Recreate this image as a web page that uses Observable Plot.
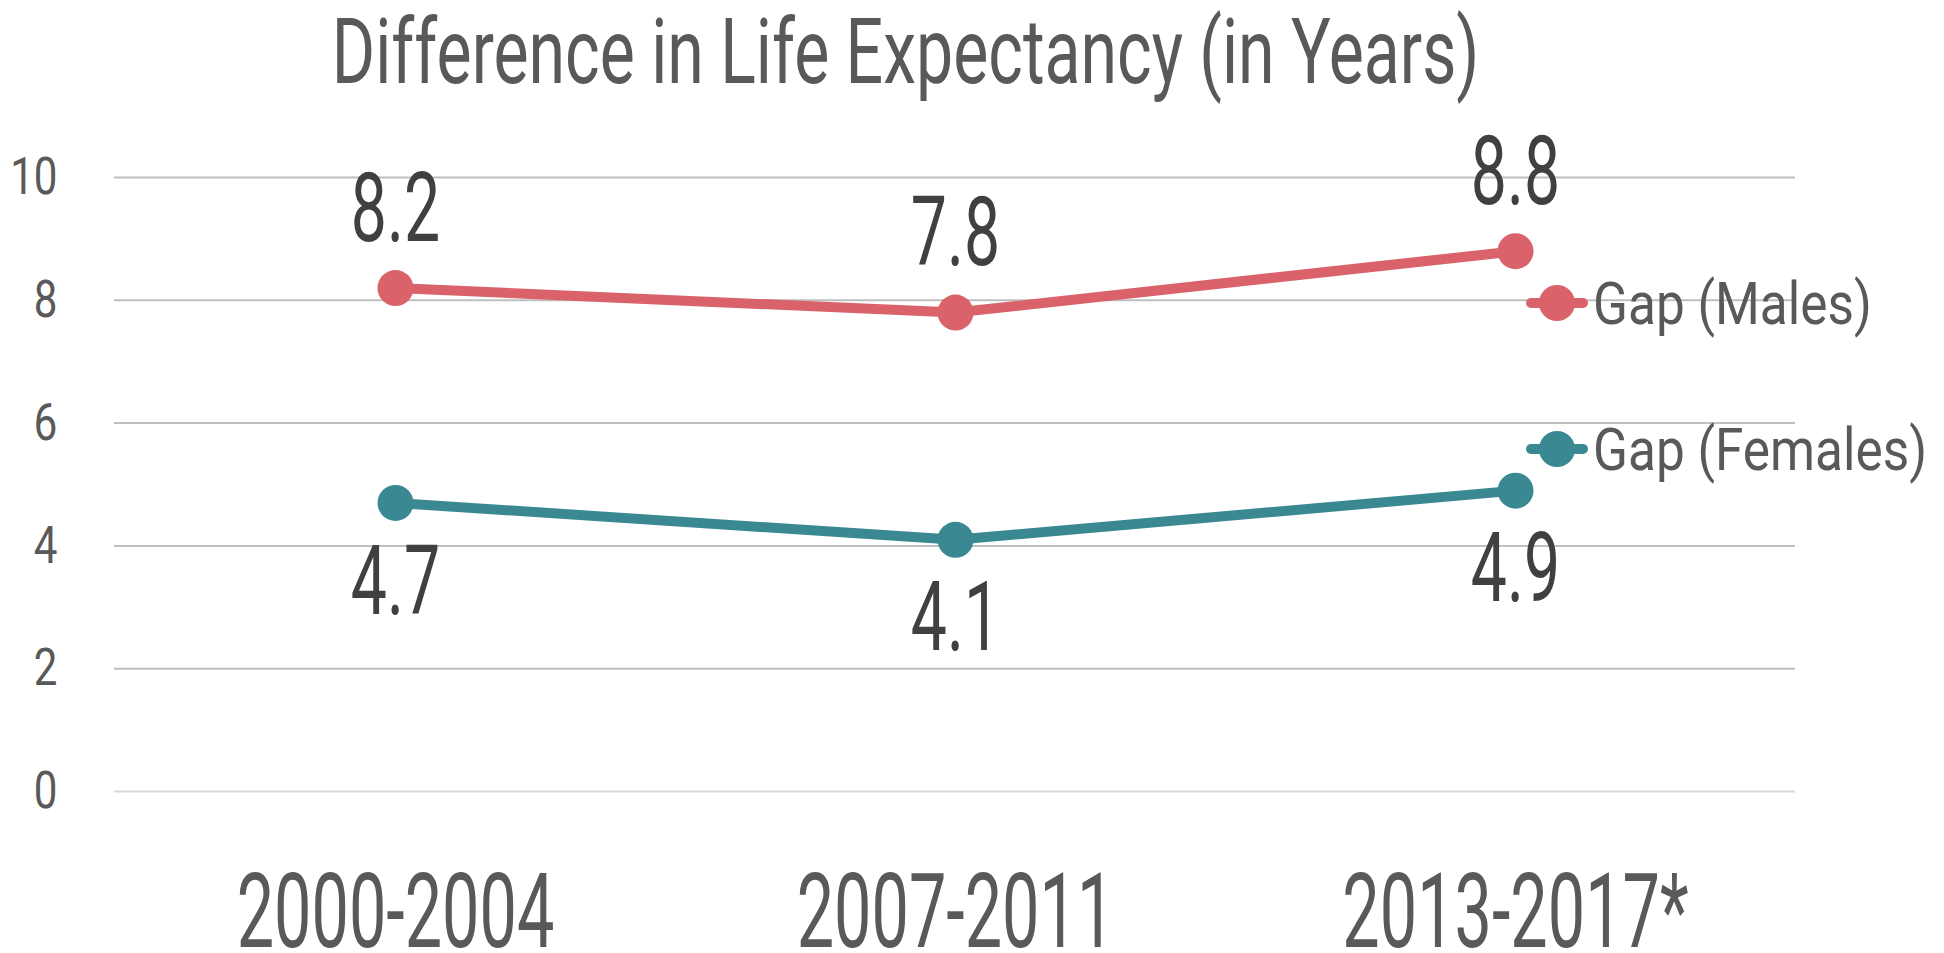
<!DOCTYPE html>
<html>
<head>
<meta charset="utf-8">
<script src="https://cdn.jsdelivr.net/npm/d3@7"></script>
<script src="https://cdn.jsdelivr.net/npm/@observablehq/plot@0.6"></script>
<style>
  html, body { margin: 0; padding: 0; background: #fff; }
  body { width: 1944px; height: 953px; position: relative; overflow: hidden; font-family: Roboto, sans-serif; }
  #title { position: absolute; left: 0; top: 2px; width: 1812px; text-align: center;
           font-size: 90px; line-height: 102px; color: #595959; white-space: nowrap; }
  #title span { display: inline-block; transform-origin: center; }
  #chart { position: absolute; left: 0; top: 115px; }
  #chart svg { overflow: visible; }
  .legend { position: absolute; display: flex; align-items: center; color: #595959; font-size: 59px; white-space: nowrap; height: 80px; }
  .legend span { display: inline-block; transform-origin: left center; }
</style>
</head>
<body>
<div id="title"><span>Difference in Life Expectancy (in Years)</span></div>
<div id="chart"></div>
<div id="legend"></div>
<script>
// ---- data ----
const periods = ["2000-2004", "2007-2011", "2013-2017*"];
const males = [8.2, 7.8, 8.8];
const females = [4.7, 4.1, 4.9];
const seriesNames = ["Gap (Males)", "Gap (Females)"];
const seriesColors = ["#D9626B", "#3A8892"];
const yTicks = [0, 2, 4, 6, 8, 10];

const rows = [
  ...periods.map((p, i) => ({period: p, value: males[i], series: seriesNames[0]})),
  ...periods.map((p, i) => ({period: p, value: females[i], series: seriesNames[1]}))
];
const maleRows = rows.filter(d => d.series === seriesNames[0]);
const femaleRows = rows.filter(d => d.series === seriesNames[1]);

const chart = Plot.plot({
  width: 1944,
  height: 838,
  marginTop: 62,
  marginBottom: 162,
  marginLeft: 114,
  marginRight: 149,
  style: {fontFamily: "Roboto, sans-serif", background: "#fff", color: "#595959", overflow: "visible"},
  x: {type: "point", domain: periods, padding: 0.5, label: null},
  y: {domain: [0, 10], label: null},
  color: {domain: seriesNames, range: seriesColors},
  marks: [
    Plot.ruleY(yTicks, {y: d => d, stroke: d => d === 0 ? "#D9D9D9" : "#BFBFBF", strokeWidth: 2}),
    Plot.axisY({ticks: yTicks, tickSize: 0, tickPadding: 57, fontSize: 52, fill: "#595959", label: null}),
    Plot.axisX({tickSize: 0, tickPadding: 82, fontSize: 104, fill: "#595959", label: null}),
    Plot.line(rows, {x: "period", y: "value", z: "series", stroke: "series", strokeWidth: 10}),
    Plot.dot(rows, {x: "period", y: "value", fill: "series", r: 18}),
    Plot.text(maleRows, {x: "period", y: "value", text: d => d.value.toFixed(1), dy: -78, fontSize: 96, fill: "#404040"}),
    Plot.text(femaleRows, {x: "period", y: "value", text: d => d.value.toFixed(1), dy: 80, fontSize: 96, fill: "#404040"})
  ]
});
document.getElementById("chart").appendChild(chart);

// condensed look: squeeze glyphs horizontally
function squeeze(selector, f) {
  chart.querySelectorAll(selector).forEach(t => {
    const w = t.getComputedTextLength();
    t.setAttribute("textLength", w * f);
    t.setAttribute("lengthAdjust", "spacingAndGlyphs");
  });
}
squeeze('g[aria-label="x-axis tick label"] text', 0.64);
squeeze('g[aria-label="y-axis tick label"] text', 0.81);
squeeze('g[aria-label="text"] text', 0.67);
document.querySelector("#title span").style.transform = "scaleX(0.735)";

// legend (HTML overlay)
const legendPos = [{left: 1521, top: 303}, {left: 1521, top: 449}];
const legend = document.getElementById("legend");
seriesNames.forEach((name, i) => {
  const div = document.createElement("div");
  div.className = "legend";
  div.style.left = legendPos[i].left + "px";
  div.style.top = (legendPos[i].top - 40) + "px";
  div.innerHTML = `<svg width="72" height="40" viewBox="0 0 72 40"><line x1="10" y1="20" x2="62" y2="20" stroke="${seriesColors[i]}" stroke-width="10" stroke-linecap="round"/><circle cx="36" cy="20" r="18" fill="${seriesColors[i]}"/></svg><span style="transform:scaleX(0.87)">${name}</span>`;
  legend.appendChild(div);
});
</script>
</body>
</html>
